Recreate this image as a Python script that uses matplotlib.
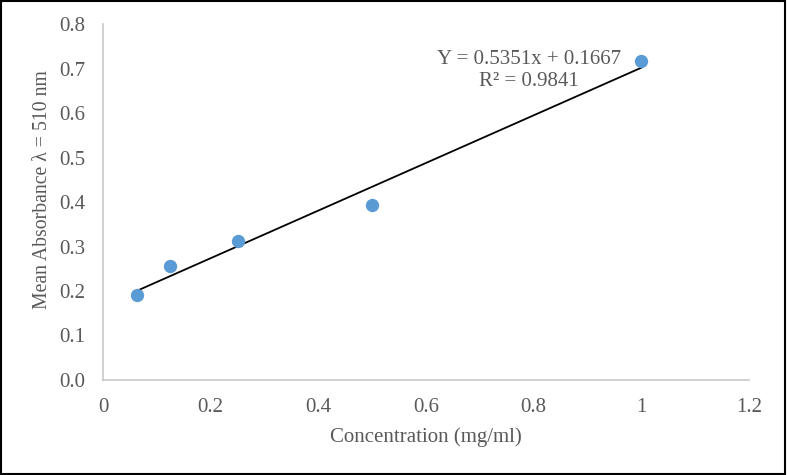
import matplotlib.pyplot as plt
from matplotlib.patches import Rectangle
from matplotlib.ticker import FuncFormatter

plt.rcParams['font.family'] = ['Liberation Serif', 'DejaVu Serif']

# data
conc = [0.0625, 0.125, 0.25, 0.5, 1.0]
absorb = [0.190, 0.256, 0.313, 0.393, 0.716]
slope = 0.5351
intercept = 0.1667
r2 = 0.9841

xticks = [0, 0.2, 0.4, 0.6, 0.8, 1.0, 1.2]
yticks = [0.0, 0.1, 0.2, 0.3, 0.4, 0.5, 0.6, 0.7, 0.8]

grey = '#595959'
axcol = '#C8C8C8'

fig = plt.figure(figsize=(7.87, 4.75), dpi=100)
ax = fig.add_axes([103/787, 1 - 380/475, (749-103)/787, (380-24)/475])

# trend line over the data range
xs = [min(conc), max(conc)]
ys = [slope * v + intercept for v in xs]
ax.plot(xs, ys, color='black', lw=1.3, zorder=2)
ax.scatter(conc, absorb, s=92, color='#5B9BD5', zorder=3, linewidths=0)

ax.set_xlim(0, 1.2)
ax.set_ylim(0, 0.8)
ax.set_xticks(xticks)
ax.set_yticks(yticks)
ax.xaxis.set_major_formatter(FuncFormatter(lambda v, p: ('%g' % v)))
ax.yaxis.set_major_formatter(FuncFormatter(lambda v, p: '%.1f' % v))
ax.tick_params(length=0, labelsize=15, colors=grey)
ax.tick_params(axis='y', pad=13)
ax.tick_params(axis='x', pad=13)

for s in ['top', 'right']:
    ax.spines[s].set_visible(False)
for s in ['left', 'bottom']:
    ax.spines[s].set_color(axcol)
    ax.spines[s].set_linewidth(1.2)

ax.set_xlabel('Concentration (mg/ml)', fontsize=15, color=grey)
ax.set_ylabel('Mean Absorbance λ = 510 nm', fontsize=14.2, color=grey)
ax.xaxis.set_label_coords(0.5, -0.133)
ax.yaxis.set_label_coords(-0.079, 0.534)

ax.text(0.791, 0.695, 'Y = %.4fx + %.4f\nR² = %.4f' % (slope, intercept, r2),
        ha='center', va='center', fontsize=15, color=grey, linespacing=1.2)

fig.patches.append(Rectangle((0.001, 0.002), 0.997, 0.995, transform=fig.transFigure,
                             fill=False, edgecolor='black', lw=1.5))

fig.savefig('out.png', dpi=100)
